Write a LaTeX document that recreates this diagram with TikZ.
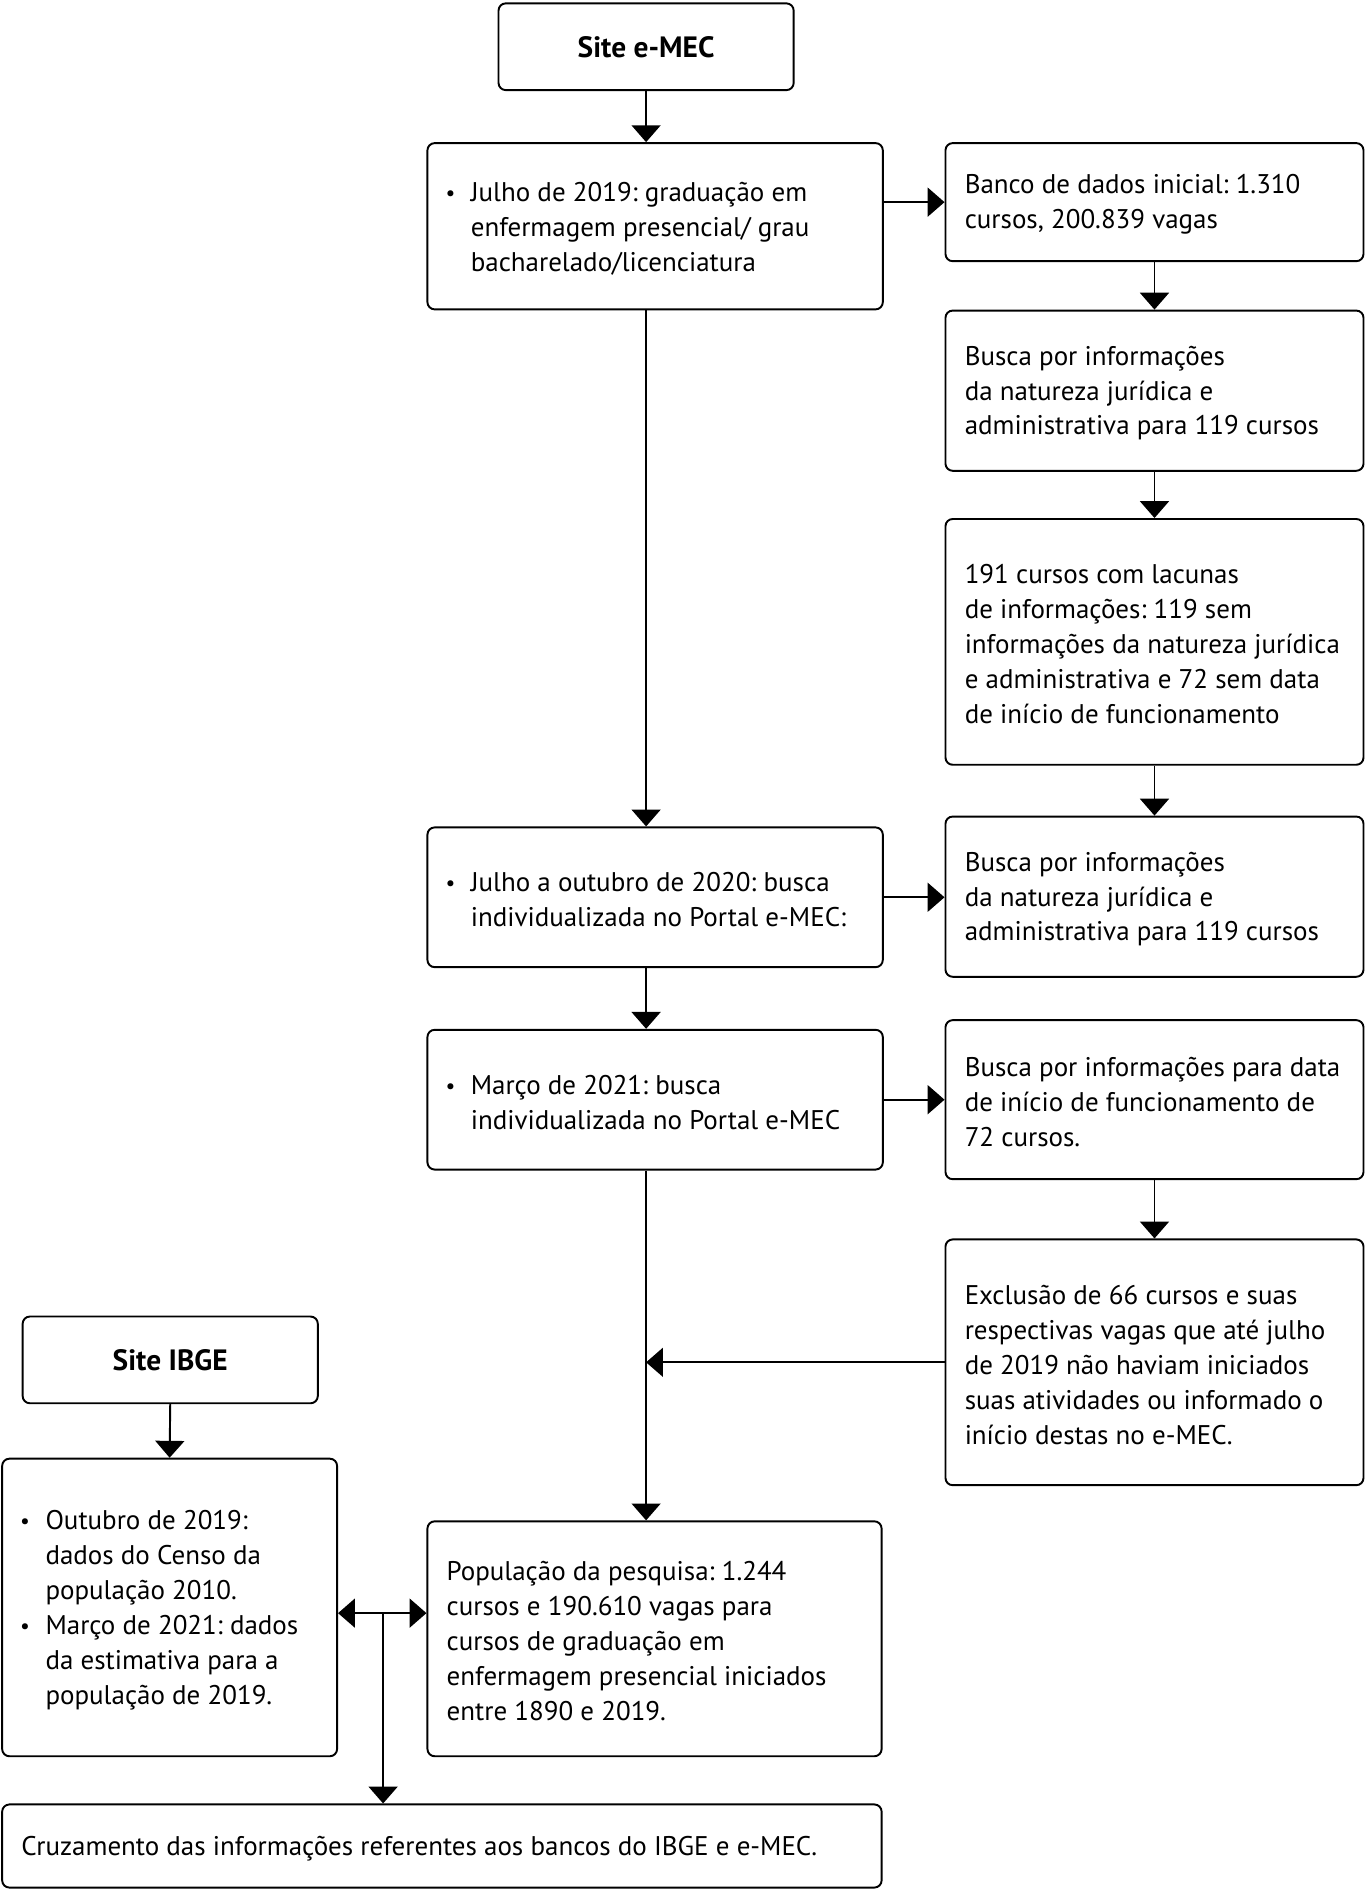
\documentclass[tikz,border=0pt]{standalone}
\usepackage{fontspec}
\setmainfont{PT Sans}
\usetikzlibrary{arrows.meta}
\frenchspacing
\newcommand\fs{\fontsize{11.2pt}{14.5pt}\selectfont}
\newcommand\fb{\fontsize{12.2pt}{14.5pt}\selectfont\bfseries}
\newcommand\bul{\makebox[10.5pt][l]{\raisebox{0.3pt}{\fontsize{9pt}{9pt}\selectfont •}}}
\newcommand\ind{\hspace*{10.5pt}}
% #1 box width, #2 left padding, #3 text
\newcommand\tx[3]{\raisebox{-1pt}[\height][\depth]{\parbox{#1}{\raggedright\leftskip=#2\relax #3}}}
\tikzset{
  box/.style={draw, line width=0.8pt, rounded corners=3pt, anchor=north west,
    inner sep=0pt, font=\fs},
  tbox/.style={draw, line width=0.8pt, rounded corners=3pt, anchor=north west,
    inner sep=0pt, align=center, font=\fb},
  arr/.style={line width=0.8pt, -{Triangle[width=12pt,length=7pt]}},
  darr/.style={line width=0.8pt, {Triangle[width=12pt,length=7pt]}-{Triangle[width=12pt,length=7pt]}},
}
\begin{document}
\begin{tikzpicture}[x=0.5pt,y=-0.5pt]
\useasboundingbox (0,0) rectangle (1135,1568);
\node[tbox, minimum width=122.5pt, minimum height=36pt] (emec) at (413,2) {Site e-MEC};
\node[box, minimum width=189pt, minimum height=69pt] (julho) at (354,118)
  {\tx{189pt}{7.5pt}{\bul Julho de 2019: graduação em\\\ind enfermagem presencial/ grau\\\ind bacharelado/licenciatura}};
\node[box, minimum width=173.5pt, minimum height=49pt] (banco) at (784,118)
  {\tx{173.5pt}{8pt}{Banco de dados inicial: 1.310\\cursos, 200.839 vagas}};
\node[box, minimum width=173.5pt, minimum height=66.5pt] (busca1) at (784,257)
  {\tx{173.5pt}{8pt}{Busca por informações\\da natureza jurídica e\\administrativa para 119 cursos}};
\node[box, minimum width=173.5pt, minimum height=102pt] (c191) at (784,430)
  {\tx{173.5pt}{8pt}{191 cursos com lacunas\\de informações: 119 sem\\informações da natureza jurídica\\e administrativa e 72 sem data\\de início de funcionamento}};
\node[box, minimum width=189pt, minimum height=58pt] (jout) at (354,686)
  {\tx{189pt}{7.5pt}{\bul Julho a outubro de 2020: busca\\\ind individualizada no Portal e-MEC:}};
\node[box, minimum width=173.5pt, minimum height=66.5pt] (busca2) at (784,677)
  {\tx{173.5pt}{8pt}{Busca por informações\\da natureza jurídica e\\administrativa para 119 cursos}};
\node[box, minimum width=189pt, minimum height=58pt] (marco) at (354,854)
  {\tx{189pt}{7.5pt}{\bul Março de 2021: busca\\\ind individualizada no Portal e-MEC}};
\node[box, minimum width=173.5pt, minimum height=66pt] (busca3) at (784,846)
  {\tx{173.5pt}{8pt}{Busca por informações para data\\de início de funcionamento de\\72 cursos.}};
\node[box, minimum width=173.5pt, minimum height=102pt] (excl) at (784,1028)
  {\tx{173.5pt}{8pt}{Exclusão de 66 cursos e suas\\respectivas vagas que até julho\\de 2019 não haviam iniciados\\suas atividades ou informado o\\início destas no e-MEC.}};
\node[tbox, minimum width=122.5pt, minimum height=36pt] (ibge) at (18,1092) {Site IBGE};
\node[box, minimum width=139pt, minimum height=123.5pt] (outu) at (1,1210)
  {\tx{139pt}{7.5pt}{\bul Outubro de 2019:\\\ind dados do Censo da\\\ind população 2010.\\\bul Março de 2021: dados\\\ind da estimativa para a\\\ind população de 2019.}};
\node[box, minimum width=188.5pt, minimum height=97.5pt] (pop) at (354,1262)
  {\tx{188.5pt}{8pt}{População da pesquisa: 1.244\\cursos e 190.610 vagas para\\cursos de graduação em\\enfermagem presencial iniciados\\entre 1890 e 2019.}};
\node[box, minimum width=365pt, minimum height=34.5pt] (cruz) at (1,1497)
  {\tx{365pt}{8pt}{Cruzamento das informações referentes aos bancos do IBGE e e-MEC.}};
\coordinate (mid) at (318,1339);
% connectors
\draw[arr] (emec.south) -- (emec.south |- julho.north);
\draw[arr] (banco.west -| julho.east) -- (banco.west);
\draw[arr] (banco.south) -- (busca1.north);
\draw[arr] (busca1.south) -- (c191.north);
\draw[arr] (c191.south) -- (busca2.north);
\draw[arr] (julho.south -| emec.south) -- (jout.north -| emec.south);
\draw[arr] (jout.east) -- (jout.east -| busca2.west);
\draw[arr] (jout.south -| emec.south) -- (marco.north -| emec.south);
\draw[arr] (marco.east) -- (marco.east -| busca3.west);
\draw[arr] (busca3.south) -- (excl.north);
\draw[arr] (excl.west) -- (excl.west -| emec.south);
\draw[arr] (marco.south -| emec.south) -- (pop.north -| emec.south);
\draw[arr] (ibge.south) -- (outu.north);
\draw[darr] (outu.east |- mid) -- (pop.west |- mid);
\draw[arr] (mid) -- (mid |- cruz.north);
\end{tikzpicture}
\end{document}
